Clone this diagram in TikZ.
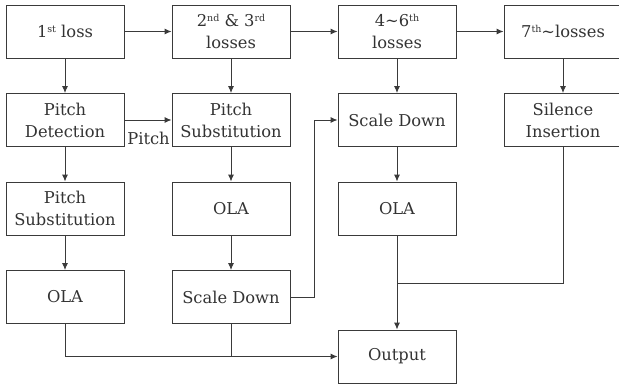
\documentclass[tikz,border=0pt]{standalone}
\usepackage{fontspec}
\setmainfont{DejaVu Serif}
\usetikzlibrary{arrows.meta}
\definecolor{ink}{HTML}{333333}
\definecolor{lnk}{HTML}{3A3A3A}
\newcommand{\sss}[1]{\raisebox{0.6ex}{\fontsize{9.5}{9.5}\selectfont #1}}
\begin{document}
\begin{tikzpicture}[x=1pt,y=-1pt,
  box/.style={draw=lnk,line width=0.9pt,minimum width=118pt,minimum height=53pt,inner sep=0pt,
    align=center,text=ink,font=\fontsize{16.3}{22}\selectfont},
  conn/.style={draw=lnk,line width=0.9pt},
  arr/.style={conn,-{Latex[length=7pt,width=6pt]}}]
\useasboundingbox (0,0) rectangle (619,386);
\clip (0,0) rectangle (619,386);
\node[box] (l1) at (65,31.5) {1\sss{st} loss};
\node[box] (l2) at (231,31.5) {2\sss{nd} \& 3\sss{rd}\\losses};
\node[box] (l3) at (397,31.5) {4\textasciitilde6\sss{th}\\losses};
\node[box] (l4) at (563,31.5) {7\sss{th}\textasciitilde losses};
\node[box] (pd) at (65,120) {Pitch\\Detection};
\node[box] (ps2) at (231,120) {Pitch\\Substitution};
\node[box] (sd3) at (397,120) {Scale Down};
\node[box] (si) at (563,120) {Silence\\Insertion};
\node[box] (ps1) at (65,208.5) {Pitch\\Substitution};
\node[box] (ola2) at (231,208.5) {OLA};
\node[box] (ola3) at (397,208.5) {OLA};
\node[box] (ola1) at (65,297) {OLA};
\node[box] (sd2) at (231,297) {Scale Down};
\node[box] (out) at (397,356.5) {Output};
\node[text=ink,font=\fontsize{16.3}{22}\selectfont,inner sep=0pt] (plab) at (148.5,138) {Pitch};
\draw[arr] (l1) -- (l2);
\draw[arr] (l2) -- (l3);
\draw[arr] (l3) -- (l4);
\draw[arr] (l1) -- (pd);
\draw[arr] (l2) -- (ps2);
\draw[arr] (l3) -- (sd3);
\draw[arr] (l4) -- (si);
\draw[arr] (pd) -- (ps2);
\draw[arr] (pd) -- (ps1);
\draw[arr] (ps2) -- (ola2);
\draw[arr] (sd3) -- (ola3);
\draw[arr] (ps1) -- (ola1);
\draw[arr] (ola2) -- (sd2);
\draw[arr] (sd2.east) -- ++(24,0) |- (sd3.west);
\draw[arr] (ola3) -- (out);
\coordinate (j1) at (397,283);
\draw[conn] (si.south) |- (j1);
\draw[arr] (ola1.south) |- (out.west);
\draw[conn] (sd2.south) -- (sd2.south |- out.west);
\end{tikzpicture}
\end{document}
